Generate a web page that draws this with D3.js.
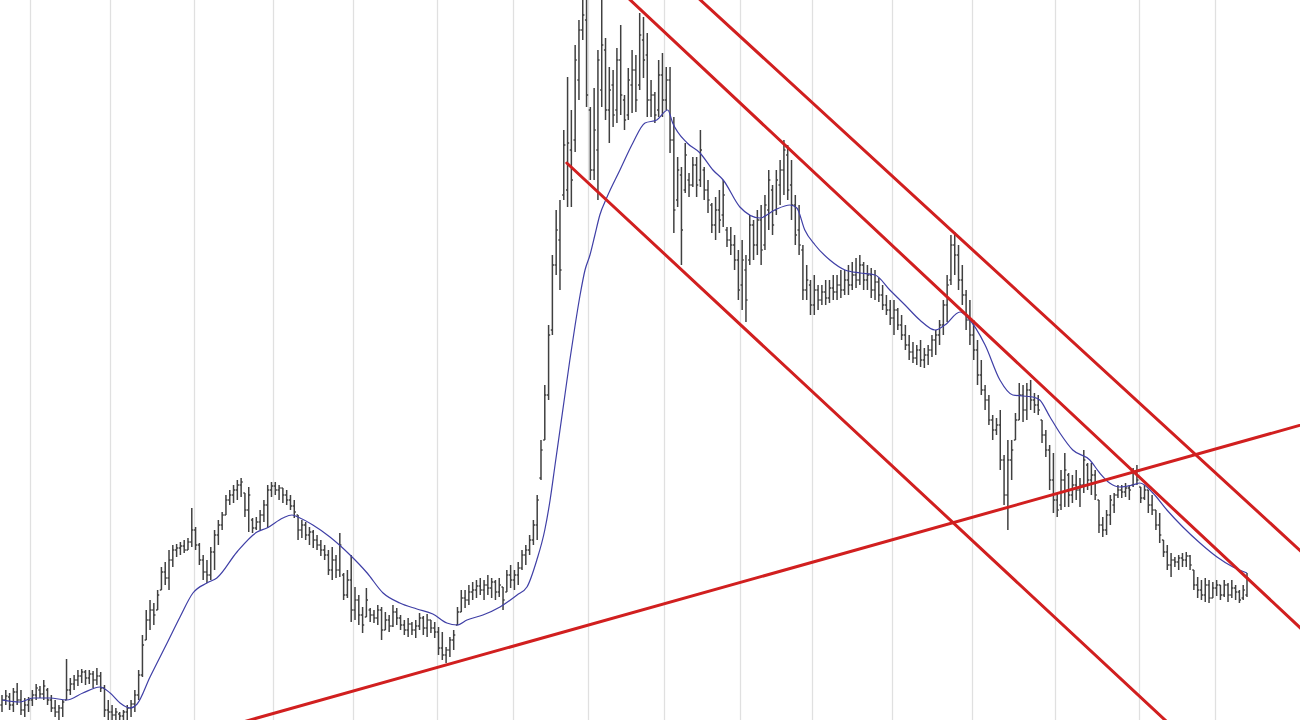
<!DOCTYPE html>
<html>
<head>
<meta charset="utf-8">
<script src="https://cdn.jsdelivr.net/npm/d3@7"></script>
<style>
  html, body { margin: 0; padding: 0; background: #ffffff; }
  svg { display: block; }
</style>
</head>
<body>
<svg id="chart" width="1300" height="720"></svg>
<script>
// ---- Data (price units, bar index = trading day) ----
const highs = [
  2.5,3.0,2.7,3.2,3.7,3.0,2.2,2.3,3.0,3.6,
  3.4,4.0,3.2,2.5,2.0,1.5,2.0,6.1,4.2,4.5,
  5.0,5.1,5.0,5.0,4.9,5.2,4.8,3.5,2.0,1.5,
  1.2,0.8,1.0,1.5,2.0,3.0,5.0,8.5,11.0,12.0,
  11.7,13.0,15.3,15.8,17.0,17.5,17.6,17.8,18.0,18.2,
  21.2,19.3,17.7,16.5,16.0,17.3,19.0,20.0,20.8,22.5,
  23.0,23.5,24.0,24.2,22.7,23.3,20.2,20.3,21.0,22.0,
  23.5,23.8,23.8,23.5,23.2,23.0,22.5,22.0,20.5,20.0,
  19.8,19.3,19.0,18.5,18.0,17.5,17.0,17.3,16.5,18.7,
  14.7,15.0,16.5,13.3,12.5,11.3,13.2,11.2,11.0,11.5,
  11.3,10.8,10.5,11.5,11.2,10.5,10.0,10.2,9.8,10.0,
  10.7,10.4,10.6,10.0,9.8,9.3,8.8,7.3,8.3,9.0,
  11.3,13.0,13.0,13.5,13.8,14.0,14.2,14.0,14.5,14.2,
  14.0,14.2,13.3,15.0,15.5,15.0,15.8,17.0,17.5,18.5,
  20.0,22.5,28.0,33.5,39.5,46.5,51.0,52.0,59.0,64.3,
  61.0,67.5,70.0,72.0,72.0,61.3,63.2,67.0,72.0,68.2,
  65.3,65.0,67.2,69.5,62.5,65.2,67.0,66.5,70.7,70.3,
  68.7,64.0,62.8,66.0,66.7,65.3,65.3,60.3,56.3,55.3,
  57.7,54.7,56.3,56.3,59.0,55.3,54.0,51.7,52.3,53.0,
  54.0,49.3,49.3,48.5,47.0,48.0,46.5,50.5,50.0,51.0,
  51.5,52.5,55.0,53.5,55.0,56.0,58.0,57.5,56.0,52.5,
  51.5,47.5,45.5,44.0,44.5,43.5,43.5,44.0,44.0,44.5,
  44.5,45.0,45.0,45.5,45.8,46.2,46.5,45.8,45.5,45.2,
  45.0,44.2,43.5,42.5,42.0,42.0,41.2,40.5,39.5,38.5,
  37.8,37.5,38.0,37.2,37.5,38.5,39.0,40.0,42.0,44.5,
  48.5,48.8,47.5,45.5,43.0,42.0,40.0,38.0,36.0,33.5,
  32.5,30.5,30.2,31.0,26.5,28.0,28.0,30.7,33.7,33.5,
  33.7,34.0,32.7,32.5,30.0,29.0,27.5,26.7,22.7,25.0,
  26.7,24.7,24.5,25.0,24.2,27.0,25.7,25.7,25.0,22.0,
  20.3,21.0,22.5,22.7,23.5,23.5,23.7,23.5,25.2,25.5,
  23.3,23.5,23.0,22.5,21.0,20.7,18.0,17.5,16.7,16.3,
  16.5,16.7,16.8,16.5,15.0,14.3,14.0,14.2,14.0,13.8,
  14.0,13.5,14.0,13.7,14.0,13.5,13.0,13.5,14.7
];
const lows = [
  0.8,1.5,1.0,0.8,1.5,0.5,0.3,0.8,1.4,2.0,
  2.2,2.0,1.5,0.8,0.3,0.0,0.3,2.0,2.5,3.0,
  3.4,3.7,3.5,3.6,3.2,3.5,2.8,0.3,0.0,0.0,
  0.0,0.0,0.0,0.0,0.3,0.8,2.0,4.3,8.0,9.0,
  9.5,11.0,13.0,13.5,13.0,15.3,16.3,16.5,16.7,17.0,
  17.3,17.0,15.5,14.0,13.7,14.0,15.0,17.5,19.0,20.5,
  21.5,21.7,22.0,22.3,20.3,18.8,18.7,19.0,19.0,19.8,
  19.2,22.3,22.5,22.0,21.7,21.5,21.0,20.2,18.0,18.2,
  18.0,17.5,17.2,17.0,16.4,16.0,14.5,14.0,14.2,14.3,
  12.0,12.2,9.8,10.0,9.5,8.7,10.3,9.8,9.7,9.5,
  8.0,9.0,8.8,9.3,9.5,9.0,8.5,8.3,8.5,8.2,
  9.0,8.5,8.3,8.7,8.2,6.5,6.0,5.7,6.3,7.0,
  9.5,10.8,11.2,11.5,12.0,12.2,12.5,12.0,12.5,12.2,
  12.0,12.3,11.0,12.8,13.2,13.0,13.5,15.0,15.5,16.5,
  17.5,18.0,24.0,28.0,32.0,38.5,44.5,43.0,52.0,51.3,
  51.3,56.8,62.0,68.0,61.3,54.0,54.0,52.0,61.3,60.0,
  57.7,59.3,59.7,60.5,59.0,60.0,60.7,60.8,63.0,64.2,
  60.3,60.3,59.7,60.3,60.3,61.0,56.7,48.7,51.3,45.5,
  52.7,52.3,53.3,52.3,53.3,52.0,50.7,48.7,48.0,48.7,
  49.3,47.3,46.5,45.0,42.0,41.0,39.8,45.5,46.0,46.5,
  45.5,47.0,49.0,48.5,50.5,51.5,52.5,52.0,50.0,47.5,
  46.5,42.0,42.0,40.5,40.5,41.0,41.5,41.5,41.7,42.0,
  42.0,42.2,42.5,42.5,43.0,43.2,43.5,43.0,43.0,42.2,
  42.0,41.8,41.0,40.5,39.5,38.5,39.0,38.0,37.0,36.0,
  35.7,35.5,35.3,35.2,35.5,36.3,36.5,37.5,38.5,39.8,
  43.5,44.5,43.0,41.5,39.0,37.5,36.0,33.5,32.5,31.0,
  29.5,28.0,28.5,25.0,21.5,19.0,24.0,28.0,30.0,29.8,
  30.0,31.0,30.7,30.5,27.7,26.3,23.0,20.7,20.3,21.0,
  21.3,21.3,21.7,22.0,21.3,22.7,23.0,22.5,22.0,18.7,
  18.3,18.5,19.5,20.7,22.2,22.2,22.3,22.0,23.3,23.5,
  21.7,22.0,20.7,20.5,19.0,17.7,16.3,15.0,14.3,15.3,
  15.0,15.3,15.3,15.0,13.0,12.2,12.0,11.8,11.7,12.2,
  12.4,12.0,12.3,11.8,12.2,12.0,11.7,12.0,12.3
];
const opens = [
  1.5,2.0,2.3,1.5,2.8,2.0,1.0,1.5,2.0,2.5,
  3.0,2.6,3.0,2.0,1.2,0.8,1.2,2.0,3.0,3.6,
  4.0,4.4,4.8,4.2,4.6,4.0,4.4,3.2,1.0,0.8,
  0.5,0.6,0.4,0.8,1.2,1.6,2.5,4.5,8.0,10.0,
  11.0,11.0,13.0,14.8,14.2,16.0,17.0,17.2,17.4,17.0,
  17.8,19.0,17.5,16.0,14.8,14.5,16.8,18.5,19.5,20.5,
  22.0,22.5,23.0,23.5,22.7,21.0,20.0,19.2,19.8,20.5,
  21.5,23.0,23.4,23.0,23.2,22.5,22.0,21.4,20.5,19.0,
  19.5,18.5,18.8,18.0,17.5,17.0,16.5,15.0,16.0,15.0,
  14.5,12.5,14.0,11.0,12.0,10.5,10.3,11.0,10.5,10.2,
  11.0,9.0,10.0,9.4,10.8,10.2,9.5,9.0,9.6,9.0,
  9.4,10.2,9.2,10.0,9.2,8.8,7.2,6.5,7.0,8.0,
  9.5,10.8,12.2,12.0,12.8,13.0,13.4,13.0,13.5,13.2,
  13.8,12.8,13.3,12.8,14.5,14.0,14.5,15.2,16.5,17.0,
  18.0,19.5,24.2,28.0,32.5,39.0,45.5,48.0,52.5,53.0,
  57.0,58.0,64.0,69.0,70.0,61.0,55.0,57.0,63.0,67.0,
  61.0,63.5,61.0,66.0,62.0,60.5,63.5,65.0,63.5,68.0,
  66.5,62.0,62.5,61.0,64.5,62.0,64.0,58.0,52.0,54.5,
  53.0,54.0,53.5,55.5,54.0,55.0,53.0,51.5,49.5,51.0,
  50.5,49.0,48.0,47.5,46.0,43.5,45.0,46.0,49.5,47.5,
  50.0,47.5,51.0,53.0,51.0,53.5,55.0,56.5,53.5,51.5,
  49.0,47.0,43.0,43.5,41.5,43.0,42.0,42.8,42.2,43.2,
  42.8,43.5,43.0,44.0,43.5,44.5,44.0,45.5,44.0,44.5,
  43.0,43.8,42.5,41.5,41.0,40.2,41.0,39.5,38.5,37.5,
  36.8,36.2,37.0,36.0,36.5,37.0,38.0,38.5,39.5,41.5,
  44.0,47.5,46.5,44.0,42.5,40.0,38.5,37.0,34.5,33.0,
  32.0,30.0,29.0,29.5,26.0,22.5,26.0,28.0,30.0,32.5,
  31.0,33.0,32.0,31.5,30.0,28.5,27.0,24.0,22.0,21.5,
  24.0,24.5,22.5,23.5,23.0,23.5,25.5,24.0,24.5,22.0,
  19.5,19.0,20.5,21.5,22.5,23.0,22.8,23.2,23.5,24.8,
  23.3,22.2,23.0,21.5,21.0,19.5,18.0,16.8,15.5,16.0,
  15.8,16.2,16.0,16.4,15.0,13.5,13.0,12.5,13.5,12.2,
  13.2,13.5,12.5,13.5,12.5,13.2,12.8,12.2,12.5
];
const closes = [
  2.0,2.4,1.5,2.8,2.0,1.0,1.5,2.0,2.5,3.2,
  2.6,3.4,2.0,1.2,0.8,1.2,1.8,3.0,3.6,4.0,
  4.4,4.8,4.2,4.6,4.0,4.4,3.2,1.0,0.8,0.5,
  0.8,0.4,0.8,1.2,1.6,2.5,4.5,7.5,10.0,11.0,
  10.5,12.5,14.8,14.2,16.0,17.0,17.2,17.4,17.0,17.8,
  19.0,17.5,16.0,14.8,14.5,16.8,18.5,19.5,20.5,22.0,
  22.5,23.0,23.5,23.8,21.0,22.5,19.2,19.8,20.5,21.5,
  23.0,23.4,23.0,23.2,22.5,22.0,21.4,20.8,19.0,19.5,
  18.5,18.8,18.0,17.5,17.0,16.5,15.0,16.0,15.0,17.5,
  12.5,14.0,11.0,12.0,10.5,9.5,12.0,10.5,10.2,11.0,
  9.0,10.0,9.4,10.8,10.2,9.5,9.0,9.6,9.0,9.4,
  10.2,9.2,10.0,9.2,8.8,7.2,6.5,7.0,8.0,8.5,
  10.8,12.2,12.0,12.8,13.0,13.4,13.0,13.5,13.2,13.8,
  12.8,13.5,12.0,14.5,14.0,14.5,15.2,16.5,17.0,18.0,
  19.5,22.0,27.0,32.5,38.5,45.5,49.0,45.0,57.5,57.7,
  54.0,66.0,69.0,70.5,62.5,55.0,59.0,66.0,67.5,61.0,
  63.0,60.5,66.0,62.5,60.0,64.0,65.0,62.0,68.5,66.0,
  62.0,62.5,60.5,64.5,62.0,64.0,58.0,51.0,55.0,49.0,
  56.5,53.5,55.5,53.5,57.0,53.0,52.0,49.5,51.0,50.0,
  52.5,48.0,47.5,46.0,43.0,46.0,42.0,49.5,47.5,50.0,
  47.0,51.5,54.0,49.5,54.0,55.0,57.0,53.0,51.5,48.5,
  47.5,43.0,44.0,41.5,43.0,42.0,42.8,42.2,43.2,42.8,
  43.5,43.0,44.0,43.5,44.5,44.0,45.5,44.0,44.5,43.0,
  43.8,42.5,41.5,41.0,40.2,41.0,39.5,38.5,37.5,36.8,
  36.2,37.0,36.0,36.5,37.0,38.0,38.5,39.5,41.5,43.5,
  47.5,46.5,44.0,42.5,40.0,38.5,37.0,34.5,33.0,32.0,
  30.0,29.0,29.5,26.0,22.5,26.0,27.0,30.0,32.5,31.0,
  33.0,32.0,31.5,31.0,28.5,27.0,24.0,22.0,21.0,24.0,
  25.0,22.5,23.5,23.0,23.5,26.0,24.0,24.5,22.5,19.5,
  19.0,20.5,22.0,22.5,23.0,22.8,23.2,23.0,24.8,24.0,
  22.2,23.0,21.5,21.0,19.5,18.5,16.8,15.5,16.0,15.8,
  16.2,16.0,16.4,15.5,13.5,13.0,12.5,13.5,12.2,13.2,
  13.5,12.5,13.5,12.5,13.2,12.8,12.0,13.0,14.2
];

// moving average (bar index, value)
const maIndex = [
  0,4.7,8.2,12.6,17.1,21.3,25.8,28.5,31.1,33.7,
  35.6,39.0,43.5,46.9,50.3,54.0,56.6,61.9,67.2,69.8,
  74.0,76.4,78.5,81.9,86.4,91.7,96.2,100.4,104.8,109.3,
  113.5,117.2,119.9,122.5,126.7,131.2,135.7,138.3,140.9,143.0,
  144.4,145.7,147.0,148.3,149.6,151.0,152.3,153.6,154.9,156.2,
  157.5,159.4,162.8,166.2,169.4,172.5,175.4,176.7,180.5,183.9,
  187.3,190.0,194.4,199.7,203.6,207.6,209.4,211.5,214.2,218.1,
  222.1,226.0,230.0,233.9,237.9,241.8,245.8,248.4,252.4,254.5,
  259.0,262.9,266.3,271.6,273.4,276.1,278.7,282.1,286.6,289.2,
  291.8,294.5,297.9,299.8,303.2,306.9,311.1,315.6,320.1,324.3,
  328.0
];
const maValues = [
  2.0,1.8,2.2,2.2,2.0,2.7,3.3,2.7,1.7,1.2,
  1.6,4.3,7.7,10.3,12.7,13.7,14.2,16.8,18.8,19.2,
  20.2,20.5,20.2,19.5,18.3,16.5,14.7,12.7,11.7,11.1,
  10.6,9.7,9.5,10.0,10.5,11.3,12.5,13.3,16.0,19.0,
  22.0,25.5,29.0,32.5,36.0,39.5,42.5,45.0,46.5,48.5,
  50.5,52.3,55.0,57.7,59.7,60.0,61.0,59.7,57.7,56.7,
  55.0,54.0,51.3,50.2,51.0,51.5,51.2,49.0,47.5,46.0,
  45.0,44.7,44.5,43.0,41.5,40.0,39.0,39.5,40.8,40.2,
  37.5,34.0,32.5,32.3,32.0,30.3,28.7,27.0,26.0,24.7,
  23.7,23.3,23.5,23.7,22.7,21.0,19.3,17.7,16.3,15.3,
  14.7
];

// first trading day of each month (bar index)
const monthStarts = [8, 29, 51, 72, 93, 115, 135, 155, 175, 195, 214, 235, 256, 278, 300, 320];

// trend lines: two anchor points (bar index, price); extendLeft marks lines drawn back past the first anchor
const trendStartIdx = [117, 206, 184, 148.8];
const trendStartVal = [5.5, 57.6, 72.0, 55.7];
const trendEndIdx   = [300, 328, 314, 306.4];
const trendEndVal   = [25.0, 14.2, 26.7, 0.0];
const trendExtendLeft = [true, true, true, false];

// ---- Drawing ----
const W = 1300, H = 720;
const svg = d3.select("#chart");

const x = d3.scaleLinear().domain([0, highs.length - 1]).range([2, 1247]);
const y = d3.scaleLinear().domain([0, 72]).range([H, 0]);

svg.append("defs").append("clipPath").attr("id", "plotclip")
  .append("rect").attr("x", 0).attr("y", 0).attr("width", W).attr("height", H);

const plot = svg.append("g").attr("clip-path", "url(#plotclip)");

// vertical month gridlines
plot.append("g").selectAll("line").data(monthStarts).join("line")
  .attr("x1", d => Math.round(x(d - 0.5)) + 0.5)
  .attr("x2", d => Math.round(x(d - 0.5)) + 0.5)
  .attr("y1", 0).attr("y2", H)
  .attr("stroke", "#e0e0e0").attr("stroke-width", 1.3);

// OHLC bars
const bars = d3.range(highs.length).map(i => ({
  i, o: opens[i], h: highs[i], l: lows[i], c: closes[i]
}));
const barG = plot.append("g").attr("stroke", "#404040").attr("stroke-width", 1.5);
barG.selectAll("line.hl").data(bars).join("line").attr("class", "hl")
  .attr("x1", d => x(d.i)).attr("x2", d => x(d.i))
  .attr("y1", d => y(d.h)).attr("y2", d => y(d.l));
barG.selectAll("line.op").data(bars).join("line").attr("class", "op")
  .attr("x1", d => x(d.i) - 1.6).attr("x2", d => x(d.i))
  .attr("y1", d => y(d.o)).attr("y2", d => y(d.o));
barG.selectAll("line.cl").data(bars).join("line").attr("class", "cl")
  .attr("x1", d => x(d.i)).attr("x2", d => x(d.i) + 1.6)
  .attr("y1", d => y(d.c)).attr("y2", d => y(d.c));

// moving average
const maData = maIndex.map((d, k) => [d, maValues[k]]);
plot.append("path").datum(maData)
  .attr("fill", "none").attr("stroke", "#3f3fa6").attr("stroke-width", 1.2)
  .attr("d", d3.line().x(d => x(d[0])).y(d => y(d[1])).curve(d3.curveMonotoneX));

// trend lines
const xMin = x.invert(-20), xMax = x.invert(W + 20);
const trendData = trendStartIdx.map((s, k) => {
  const slope = (trendEndVal[k] - trendStartVal[k]) / (trendEndIdx[k] - s);
  const a = trendExtendLeft[k] ? xMin : s;
  const b = xMax;
  return [[a, trendStartVal[k] + slope * (a - s)], [b, trendStartVal[k] + slope * (b - s)]];
});
plot.append("g").selectAll("path").data(trendData).join("path")
  .attr("fill", "none").attr("stroke", "#d11f1f").attr("stroke-width", 3)
  .attr("stroke-linecap", "round")
  .attr("d", d3.line().x(d => x(d[0])).y(d => y(d[1])));
</script>
</body>
</html>
